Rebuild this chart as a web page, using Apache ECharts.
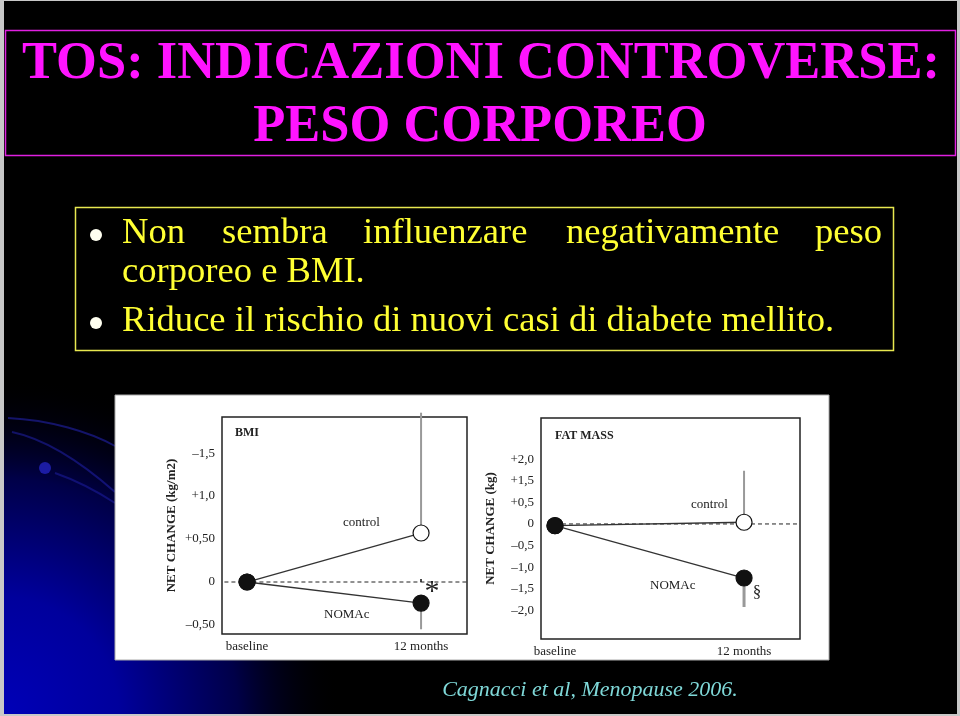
<!DOCTYPE html>
<html>
<head>
<meta charset="utf-8">
<script src="https://cdn.jsdelivr.net/npm/echarts@6/dist/echarts.min.js"></script>
<style>
html,body{margin:0;padding:0;background:#c8c8c8;}
#chart{width:960px;height:716px;}
</style>
</head>
<body>
<div id="chart"></div>
<script>
// ---- data ----
var xCategories = ['baseline', '12 months'];
var xPositions = [0, 1];

var bmiTickValues = [-0.5, 0, 0.5, 1.0, 1.5];
var bmiTickLabels = ['\u20130,50', '0', '+0,50', '+1,0', '\u20131,5'];
var bmiControl = [0, 0.57];
var bmiNomac = [0, -0.245];
var bmiControlErrHigh = 1.97;
var bmiNomacErrLow = -0.55;

var fatTickValues = [-2.0, -1.5, -1.0, -0.5, 0, 0.5, 1.0, 1.5];
var fatTickLabels = ['\u20132,0', '\u20131,5', '\u20131,0', '\u20130,5', '0', '+0,5', '+1,5', '+2,0'];
var fatControl = [-0.04, 0.04];
var fatNomac = [-0.04, -1.25];
var fatControlErrHigh = 1.23;
var fatNomacErrLow = -1.92;

var SERIF = '"Liberation Serif", "Times New Roman", serif';

function pairs(xs, ys) { return xs.map(function (x, i) { return [x, ys[i]]; }); }

function xAxisFor(gi, min, max) {
  return {
    type: 'value', gridIndex: gi, min: min, max: max,
    axisLine: { show: false }, splitLine: { show: false },
    axisTick: { show: true, customValues: xPositions, inside: true, length: 3, lineStyle: { color: '#111', width: 1.5 } },
    axisLabel: {
      customValues: xPositions, margin: 6, color: '#222', fontFamily: SERIF, fontSize: 13,
      formatter: function (v) { return xCategories[xPositions.indexOf(v)]; }
    }
  };
}
function yAxisFor(gi, min, max, vals, labs, name) {
  return {
    type: 'value', gridIndex: gi, min: min, max: max,
    name: name, nameLocation: 'middle', nameGap: 44, nameRotate: 90,
    nameTextStyle: { fontFamily: SERIF, fontWeight: 'bold', fontSize: 13, color: '#222' },
    axisLine: { show: false }, splitLine: { show: false },
    axisTick: { show: false },
    axisLabel: {
      customValues: vals, margin: 7, color: '#222', fontFamily: SERIF, fontSize: 13,
      formatter: function (v) { return labs[vals.indexOf(v)]; }
    }
  };
}
function errSeries(xi, yi, x, y1, y2, w) {
  return { type: 'line', xAxisIndex: xi, yAxisIndex: yi, data: [[x, y1], [x, y2]], symbol: 'none',
    lineStyle: { color: '#999', width: w }, clip: false, z: 2, silent: true };
}
function zeroSeries(xi, yi, x0, x1) {
  return { type: 'line', xAxisIndex: xi, yAxisIndex: yi, data: [[x0, 0], [x1, 0]], symbol: 'none',
    lineStyle: { color: '#222', width: 1, type: [4, 3] }, z: 1, silent: true };
}
function groupSeries(xi, yi, vals, filled) {
  return { type: 'line', xAxisIndex: xi, yAxisIndex: yi, data: pairs(xPositions, vals),
    symbol: 'circle', symbolSize: 16,
    itemStyle: { color: filled ? '#111' : '#fff', borderColor: '#111', borderWidth: 1.2 },
    lineStyle: { color: '#333', width: 1.3 }, z: 3, clip: false, silent: true };
}
function txt(t, x, y, size, weight, color, align, font, style) {
  return { type: 'text', z: 100, style: { text: t, x: x, y: y, fill: color, fontSize: size,
    fontWeight: weight || 'normal', fontStyle: style || 'normal', fontFamily: font || SERIF,
    align: align || 'left', verticalAlign: 'middle' } };
}

var chart = echarts.init(document.getElementById('chart'), null, { renderer: 'canvas' });

var graphics = [
  // slide background
  { type: 'rect', z: -30, shape: { x: 4, y: 1, width: 953, height: 713 }, style: { fill: '#000' } },
  { type: 'rect', z: -29, shape: { x: 4, y: 1, width: 953, height: 713 },
    style: { fill: { type: 'radial', x: 0, y: 716, r: 340, global: true,
      colorStops: [{ offset: 0, color: '#0000b8' }, { offset: 0.35, color: '#00009c' },
                   { offset: 0.7, color: '#000048' }, { offset: 1, color: 'rgba(0,0,0,0)' }] } } },
  { type: 'bezierCurve', z: -28, shape: { x1: 8, y1: 418, x2: 115, y2: 446, cpx1: 50, cpy1: 420, cpx2: 90, cpy2: 432 },
    style: { stroke: 'rgba(40,40,200,0.5)', lineWidth: 2, fill: null } },
  { type: 'bezierCurve', z: -28, shape: { x1: 12, y1: 432, x2: 115, y2: 492, cpx1: 50, cpy1: 440, cpx2: 90, cpy2: 470 },
    style: { stroke: 'rgba(40,40,200,0.45)', lineWidth: 2, fill: null } },
  { type: 'bezierCurve', z: -28, shape: { x1: 55, y1: 473, x2: 115, y2: 503, cpx1: 75, cpy1: 480, cpx2: 95, cpy2: 490 },
    style: { stroke: 'rgba(40,40,200,0.4)', lineWidth: 2, fill: null } },
  { type: 'circle', z: -28, shape: { cx: 45, cy: 468, r: 6 }, style: { fill: 'rgba(40,40,210,0.7)' } },
  // title box
  { type: 'rect', z: -5, shape: { x: 5.5, y: 30.5, width: 950, height: 125 }, style: { fill: null, stroke: '#e020e0', lineWidth: 1.5 } },
  txt('TOS: INDICAZIONI CONTROVERSE:', 481, 64, 52.5, 'bold', '#ff14ff', 'center'),
  txt('PESO CORPOREO', 480, 127, 52.5, 'bold', '#ff14ff', 'center'),
  // bullet box
  { type: 'rect', z: -5, shape: { x: 75.5, y: 207.5, width: 818, height: 143 }, style: { fill: null, stroke: '#e8e850', lineWidth: 1.5 } },
  { type: 'circle', z: 10, shape: { cx: 96, cy: 235, r: 6 }, style: { fill: '#fffff0' } },
  { type: 'circle', z: 10, shape: { cx: 96, cy: 323, r: 6 }, style: { fill: '#fffff0' } },
  txt('Non', 122, 233, 36.6, 'normal', '#ffff33'),
  txt('sembra', 222, 233, 36.6, 'normal', '#ffff33'),
  txt('influenzare', 363, 233, 36.6, 'normal', '#ffff33'),
  txt('negativamente', 566, 233, 36.6, 'normal', '#ffff33'),
  txt('peso', 882, 233, 36.6, 'normal', '#ffff33', 'right'),
  txt('corporeo e BMI.', 122, 272, 36.6, 'normal', '#ffff33'),
  txt('Riduce il rischio di nuovi casi di diabete mellito.', 122, 321, 36.6, 'normal', '#ffff33'),
  // white figure panel
  { type: 'rect', z: -10, shape: { x: 115, y: 395, width: 714, height: 265 }, style: { fill: '#fff', stroke: '#aaa', lineWidth: 1 } },
  // in-plot annotations
  txt('BMI', 235, 433, 12, 'bold', '#222'),
  txt('control', 343, 523, 13, 'normal', '#222'),
  txt('NOMAc', 324, 615, 13, 'normal', '#222'),
  txt('*', 432, 592, 30, 'normal', '#222', 'center'),
  txt('FAT MASS', 555, 436, 12, 'bold', '#222'),
  txt('control', 691, 505, 13, 'normal', '#222'),
  txt('NOMAc', 650, 586, 13, 'normal', '#222'),
  txt('\u00a7', 757, 593, 17, 'normal', '#222', 'center'),
  // citation
  txt('Cagnacci et al, Menopause 2006.', 590, 690, 22, 'normal', '#7fd8d8', 'center', SERIF, 'italic')
];

var option = {
  backgroundColor: '#c8c8c8',
  animation: false,
  graphic: graphics,
  grid: [
    { left: 222, top: 417, width: 245, height: 217, show: true, backgroundColor: '#fff', borderColor: '#222', borderWidth: 1.5, z: 0 },
    { left: 541, top: 418, width: 259, height: 221, show: true, backgroundColor: '#fff', borderColor: '#222', borderWidth: 1.5, z: 0 }
  ],
  xAxis: [xAxisFor(0, -0.144, 1.264), xAxisFor(1, -0.074, 1.296)],
  yAxis: [
    yAxisFor(0, -0.605, 1.92, bmiTickValues, bmiTickLabels, 'NET CHANGE (kg/m2)'),
    yAxisFor(1, -2.66, 2.45, fatTickValues, fatTickLabels, 'NET CHANGE (kg)')
  ],
  series: [
    zeroSeries(0, 0, -0.13, 1.264),
    errSeries(0, 0, xPositions[1], bmiControl[1], bmiControlErrHigh, 2),
    errSeries(0, 0, xPositions[1], bmiNomac[1], bmiNomacErrLow, 2),
    groupSeries(0, 0, bmiControl, false),
    groupSeries(0, 0, bmiNomac, true),
    zeroSeries(1, 1, 0, 1.296),
    errSeries(1, 1, xPositions[1], fatControl[1], fatControlErrHigh, 2),
    errSeries(1, 1, xPositions[1], fatNomac[1], fatNomacErrLow, 3),
    groupSeries(1, 1, fatControl, false),
    groupSeries(1, 1, fatNomac, true)
  ]
};
chart.setOption(option);
</script>
</body>
</html>
